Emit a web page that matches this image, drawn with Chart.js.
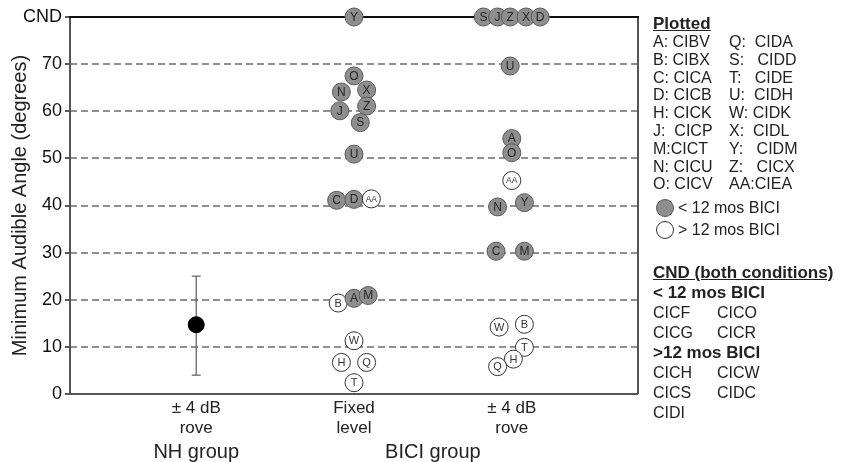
<!DOCTYPE html>
<html>
<head>
<meta charset="utf-8">
<title>Minimum audible angle</title>
<script src="https://cdn.jsdelivr.net/npm/chart.js@4.4.1/dist/chart.umd.min.js"></script>
<style>
  html, body { margin: 0; padding: 0; background: #fff; }
  #wrap { position: relative; width: 843px; height: 462px; overflow: hidden;
          font-family: Arial, "Liberation Sans", sans-serif; color: #222; }
  #chart { position: absolute; left: 0; top: 0; }
  .txt { position: absolute; white-space: pre; font-size: 16px; line-height: 18px; }
  .head { font-weight: bold; text-decoration: underline; font-size: 17px; }
  .bold { font-weight: bold; font-size: 17px; }
  .dot { position: absolute; width: 18px; height: 18px; border-radius: 50%; box-sizing: border-box; }
</style>
</head>
<body>
<div id="wrap">
  <canvas id="chart" width="843" height="462"></canvas>
  <div id="key"></div>
</div>
<script>
// y axis: 0..70 degrees, top row (80) stands for "could not do" (CND)
const CND = 80;
const yMin = 0;
const yMax = 80;
const yStep = 10;

// x positions of the three conditions and their labels
const conditionPos = [1, 2, 3];
const conditionLabels = [['± 4 dB', 'rove'], ['Fixed', 'level'], ['± 4 dB', 'rove']];
const groupLabels = ['NH group', 'BICI group'];
const groupPos = [1, 2.5];

// NH group: mean and range
const nhMean = 14.7;
const nhLow = 4;
const nhHigh = 25;

// BICI, fixed level (x holds the small horizontal jitter of the original)
const fixedLetters = ['Y', 'O', 'N', 'X', 'Z', 'J', 'S', 'U', 'C', 'D', 'AA', 'B', 'A', 'M', 'W', 'H', 'Q', 'T'];
const fixedX = [2.0, 2.0, 1.92, 2.08, 2.08, 1.91, 2.04, 2.0, 1.89, 2.0, 2.11, 1.9, 2.0, 2.09, 2.0, 1.92, 2.08, 2.0];
const fixedMaa = [80, 67.5, 64.1, 64.5, 61.1, 60.1, 57.6, 50.9, 41.1, 41.3, 41.4, 19.3, 20.3, 20.9, 11.3, 6.7, 6.7, 2.4];
const fixedOver12 = [0, 0, 0, 0, 0, 0, 0, 0, 0, 0, 1, 1, 0, 0, 1, 1, 1, 1];

// BICI, +-4 dB rove
const roveLetters = ['S', 'J', 'Z', 'X', 'D', 'U', 'A', 'O', 'AA', 'N', 'Y', 'C', 'M', 'W', 'B', 'T', 'H', 'Q'];
const roveX = [2.82, 2.91, 2.99, 3.09, 3.18, 2.99, 3.0, 3.0, 3.0, 2.91, 3.08, 2.9, 3.08, 2.92, 3.08, 3.08, 3.01, 2.91];
const roveMaa = [80, 80, 80, 80, 80, 69.6, 54.2, 51.2, 45.3, 39.7, 40.6, 30.3, 30.3, 14.2, 14.8, 9.9, 7.4, 5.8];
const roveOver12 = [0, 0, 0, 0, 0, 0, 0, 0, 1, 0, 0, 0, 0, 1, 1, 1, 1, 1];

// legend text
const plottedLeft = ['A: CIBV', 'B: CIBX', 'C: CICA', 'D: CICB', 'H: CICK', 'J:  CICP', 'M:CICT', 'N: CICU', 'O: CICV'];
const plottedRight = ['Q:  CIDA', 'S:   CIDD', 'T:   CIDE', 'U:  CIDH', 'W: CIDK', 'X:  CIDL', 'Y:   CIDM', 'Z:   CICX', 'AA:CIEA'];
const cndUnder12 = [['CICF', 'CICO'], ['CICG', 'CICR']];
const cndOver12 = [['CICH', 'CICW'], ['CICS', 'CIDC'], ['CIDI', '']];

const FILL = '#8e8e8e';
const EDGE = '#5a5a5a';

function points(xs, ys) {
    return xs.map((x, i) => ({ x: x, y: ys[i] }));
}

// frame round the plot area, drawn under the markers
const framePlugin = {
    id: 'frame',
    beforeDatasetsDraw(chart) {
        const { ctx, chartArea: a } = chart;
        ctx.save();
        ctx.lineWidth = 2;
        ctx.strokeStyle = '#555';
        ctx.beginPath();
        ctx.moveTo(a.left, a.bottom); ctx.lineTo(a.right, a.bottom);
        ctx.moveTo(a.left, a.top); ctx.lineTo(a.left, a.bottom);
        ctx.moveTo(a.right, a.top); ctx.lineTo(a.right, a.bottom);
        ctx.stroke();
        ctx.strokeStyle = '#111';
        ctx.beginPath();
        ctx.moveTo(a.left - 1, a.top); ctx.lineTo(a.right + 1, a.top);
        ctx.stroke();
        ctx.restore();
    }
};

// subject letters inside the circles, and the group names under the axis
const letterPlugin = {
    id: 'letters',
    afterDatasetDraw(chart, args) {
        const ds = chart.data.datasets[args.index];
        if (!ds.letters) return;
        const ctx = chart.ctx;
        ctx.save();
        ctx.textAlign = 'center';
        ctx.textBaseline = 'middle';
        args.meta.data.forEach((pt, i) => {
            const l = ds.letters[i];
            const open = ds.over12[i];
            ctx.fillStyle = open ? '#333' : '#262626';
            ctx.font = (l.length > 1 ? '8.5px' : (open ? '11px' : '12px')) + ' Arial, "Liberation Sans", sans-serif';
            ctx.fillText(l, pt.x, pt.y + 0.5);
        });
        ctx.restore();
    },
    afterDraw(chart) {
        const ctx = chart.ctx;
        const xs = chart.scales.x;
        ctx.save();
        ctx.font = '20px Arial, "Liberation Sans", sans-serif';
        ctx.fillStyle = '#222';
        ctx.textAlign = 'center';
        ctx.textBaseline = 'middle';
        groupLabels.forEach((g, i) => {
            ctx.fillText(g, xs.getPixelForValue(groupPos[i]), chart.chartArea.bottom + 58);
        });
        ctx.restore();
    }
};

function markerSet(label, xs, ys, letters, over12) {
    return {
        label: label,
        data: points(xs, ys),
        letters: letters,
        over12: over12,
        order: 1,
        clip: false,
        pointRadius: 9,
        pointHoverRadius: 9,
        borderWidth: 1,
        backgroundColor: c => over12[c.dataIndex] ? '#fff' : FILL,
        borderColor: c => over12[c.dataIndex] ? '#333' : EDGE
    };
}

new Chart(document.getElementById('chart'), {
    type: 'scatter',
    data: {
        datasets: [
            {
                label: 'NH range',
                type: 'line',
                order: 3,
                data: [{ x: conditionPos[0], y: nhLow }, { x: conditionPos[0], y: nhHigh }],
                showLine: true,
                borderColor: '#666',
                borderWidth: 1.3,
                pointStyle: 'line',
                pointRadius: 4.5,
                pointBorderColor: '#666',
                pointBorderWidth: 1.3
            },
            {
                label: 'NH mean',
                order: 2,
                data: [{ x: conditionPos[0], y: nhMean }],
                pointRadius: 8,
                backgroundColor: '#000',
                borderColor: '#000'
            },
            markerSet('Fixed level', fixedX, fixedMaa, fixedLetters, fixedOver12),
            markerSet('Rove', roveX, roveMaa, roveLetters, roveOver12)
        ]
    },
    options: {
        responsive: false,
        animation: false,
        events: [],
        layout: { padding: { top: 17, right: 205, left: 0, bottom: 0 } },
        plugins: { legend: { display: false }, tooltip: { enabled: false } },
        scales: {
            x: {
                type: 'linear',
                min: 0.2,
                max: 3.8,
                afterBuildTicks: s => { s.ticks = conditionPos.map(v => ({ value: v })); },
                afterFit: s => { s.height = 68; },
                ticks: {
                    autoSkip: false,
                    maxRotation: 0,
                    padding: 4,
                    color: '#222',
                    font: { family: 'Arial, "Liberation Sans", sans-serif', size: 17, lineHeight: 1.2 },
                    callback: v => conditionLabels[conditionPos.indexOf(v)]
                },
                grid: { display: false, drawTicks: false },
                border: { display: false }
            },
            y: {
                min: yMin,
                max: yMax,
                afterFit: s => { s.width = 70; },
                ticks: {
                    stepSize: yStep,
                    padding: 3,
                    color: '#111',
                    font: { family: 'Arial, "Liberation Sans", sans-serif', size: 18 },
                    callback: v => v === CND ? 'CND' : v
                },
                grid: {
                    color: c => (c.tick && (c.tick.value === yMin || c.tick.value === yMax)) ? 'rgba(0,0,0,0)' : '#909090',
                    lineWidth: 2,
                    tickColor: '#222',
                    tickLength: 5,
                    tickWidth: 1.5
                },
                border: { display: false, dash: [7, 4] },
                title: {
                    display: true,
                    text: 'Minimum Audible Angle (degrees)',
                    color: '#222',
                    padding: { top: 8, bottom: 0 },
                    font: { family: 'Arial, "Liberation Sans", sans-serif', size: 20 }
                }
            }
        }
    },
    plugins: [framePlugin, letterPlugin]
});

// legend at the right
const key = document.getElementById('key');
function addText(text, left, centerY, cls) {
    const d = document.createElement('div');
    d.className = 'txt' + (cls ? ' ' + cls : '');
    d.textContent = text;
    d.style.left = left + 'px';
    d.style.top = (centerY - 9) + 'px';
    key.appendChild(d);
}
function addDot(cx, cy, open) {
    const d = document.createElement('span');
    d.className = 'dot';
    d.style.left = (cx - 9) + 'px';
    d.style.top = (cy - 9) + 'px';
    d.style.background = open ? '#fff' : FILL;
    d.style.border = '1px solid ' + (open ? '#333' : EDGE);
    key.appendChild(d);
}

addText('Plotted', 653, 24, 'head');
plottedLeft.forEach((t, i) => addText(t, 653, 42 + i * 17.8));
plottedRight.forEach((t, i) => addText(t, 729, 42 + i * 17.8));
addDot(665, 208, false);
addText('< 12 mos BICI', 678, 208);
addDot(665, 230, true);
addText('> 12 mos BICI', 678, 230);

addText('CND (both conditions)', 653, 273, 'head');
addText('< 12 mos BICI', 653, 293, 'bold');
cndUnder12.forEach((row, i) => {
    addText(row[0], 653, 313 + i * 20);
    addText(row[1], 717, 313 + i * 20);
});
addText('>12 mos BICI', 653, 353, 'bold');
cndOver12.forEach((row, i) => {
    addText(row[0], 653, 373 + i * 20);
    addText(row[1], 717, 373 + i * 20);
});
</script>
</body>
</html>
